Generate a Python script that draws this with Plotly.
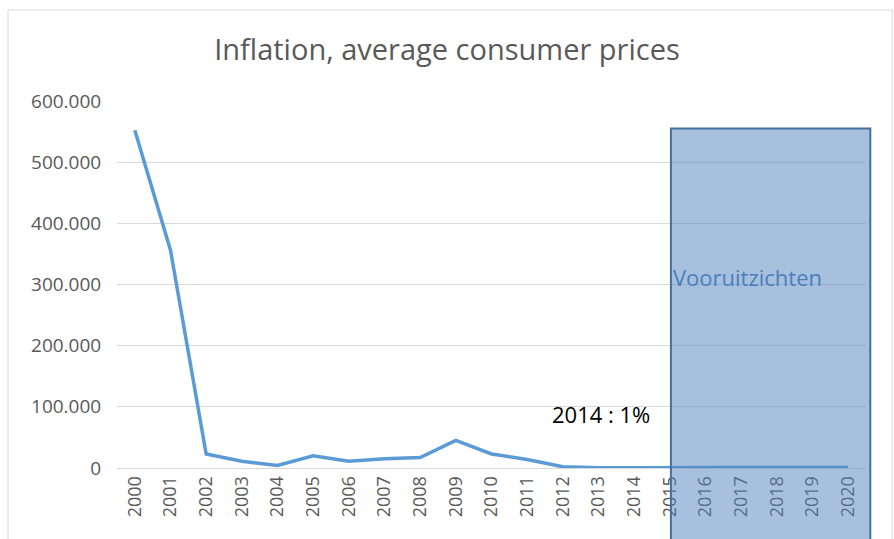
import plotly.graph_objects as go

years = [str(y) for y in range(2000, 2021)]
inflation = [552000, 356000, 23000, 11000, 4000, 20000, 11000, 15000, 17000, 45000,
             23000, 14000, 2000, 300, 500, 1000, 1000, 1000, 1000, 1000, 1000]

forecast_start = 15.03   # index of 2015
forecast_end = 20.62
forecast_top = 555000

line_color = "#5b9bd5"
grey = "#595959"

fig = go.Figure()
fig.add_trace(go.Scatter(x=years, y=inflation, mode="lines",
                         line=dict(color=line_color, width=3.5),
                         hoverinfo="x+y"))

# convert category index -> paper coords (category axis range -0.5..20.5)
n = len(years)
def xp(i):
    return (i + 0.5) / n

fig.add_shape(type="rect", xref="paper", yref="paper",
              x0=xp(forecast_start), x1=xp(forecast_end),
              y0=-0.2, y1=forecast_top / 600000,
              fillcolor="rgba(79,129,189,0.5)",
              line=dict(color="#41719c", width=2), layer="above")

# outer chart frame
fig.add_shape(type="rect", xref="paper", yref="paper",
              x0=-0.1455, x1=1.035, y0=-0.22, y1=1.248,
              line=dict(color="#d9d9d9", width=1), layer="below")

fig.add_annotation(x=xp(forecast_start), y=(468 - 277) / 367, xref="paper", yref="paper",
                   text="Vooruitzichten", showarrow=False, xanchor="left", yanchor="middle",
                   font=dict(size=22, color="#4a7ebb"))
fig.add_annotation(x=(601 - 117) / 749, y=(468 - 414) / 367, xref="paper", yref="paper",
                   text="2014 : 1%", showarrow=False, xanchor="center", yanchor="middle",
                   font=dict(size=22, color="black"))

fig.update_layout(
    width=894, height=539,
    margin=dict(l=117, r=28, t=101, b=71),
    paper_bgcolor="white", plot_bgcolor="white",
    separators=",.",
    showlegend=False,
    font=dict(family="Open Sans", color=grey),
    title=dict(text="Inflation, average consumer prices", x=0.5, xanchor="center",
               y=1 - 50 / 539, yanchor="middle",
               font=dict(size=29, color=grey)),
    xaxis=dict(type="category", range=[-0.5, n - 0.5], tickangle=-90, showgrid=False,
               showline=True, linecolor="#d9d9d9", ticks="",
               tickfont=dict(size=18, color=grey)),
    yaxis=dict(range=[0, 600000], dtick=100000, tickformat=",d",
               gridcolor="#d9d9d9", zeroline=False, ticks="",
               tickfont=dict(size=19, color=grey), ticksuffix="   "),
)

fig.write_html("out.html", config={"displayModeBar": False},
               post_script="document.body.style.margin='0px';")
